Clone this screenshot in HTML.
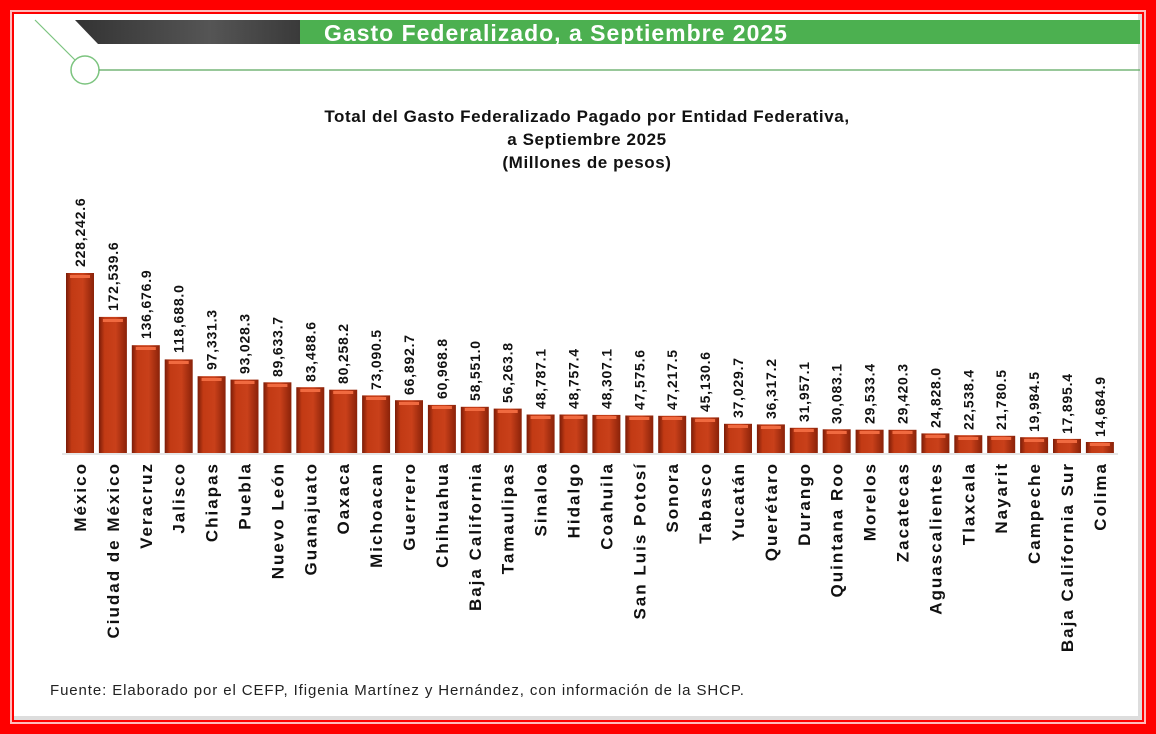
<!DOCTYPE html>
<html><head><meta charset="utf-8"><style>
body{margin:0;width:1156px;height:734px;overflow:hidden;background:#fff}
svg{display:block}
text{font-family:"Liberation Sans",sans-serif}
</style></head><body>
<svg width="1156" height="734" viewBox="0 0 1156 734">
<defs>
<linearGradient id="bg" x1="0" x2="1" y1="0" y2="0">
<stop offset="0" stop-color="#7a1c08"/><stop offset="0.2" stop-color="#c23a14"/><stop offset="0.6" stop-color="#c9401a"/><stop offset="1" stop-color="#8a2209"/>
</linearGradient>
<linearGradient id="hd" x1="0" x2="1">
<stop offset="0" stop-color="#333"/><stop offset="0.6" stop-color="#555"/><stop offset="1" stop-color="#3a3a3a"/>
</linearGradient>
</defs>
<rect x="0" y="0" width="1156" height="734" fill="#f00"/>
<rect x="10" y="10" width="1136" height="714" fill="#fbb"/>
<rect x="12" y="12" width="1132" height="710" fill="#f00"/>
<rect x="14" y="14" width="1128" height="706" fill="#fff"/>
<rect x="1138" y="14" width="4" height="706" fill="#ddd"/>
<rect x="14" y="716" width="1128" height="4" fill="#ddd"/>
<polygon points="75,20 300,20 300,44 98,44" fill="url(#hd)"/>
<rect x="300" y="20" width="840" height="24" fill="#4cb050"/>
<text x="556" y="41" font-size="23" letter-spacing="1" font-weight="bold" fill="#fff" text-anchor="middle">Gasto Federalizado, a Septiembre 2025</text>
<line x1="35" y1="20" x2="75" y2="60" stroke="#7cc47f" stroke-width="1.2"/>
<circle cx="85" cy="70" r="14" fill="#fff" stroke="#7cc47f" stroke-width="1.5"/>
<line x1="99" y1="70" x2="1140" y2="70" stroke="#5aa85e" stroke-width="1.2"/>
<g font-size="17" letter-spacing="0.6" font-weight="bold" fill="#111" text-anchor="middle">
<text x="587" y="122">Total del Gasto Federalizado Pagado por Entidad Federativa,</text>
<text x="587" y="145">a Septiembre 2025</text>
<text x="587" y="168">(Millones de pesos)</text>
</g>
<line x1="62" y1="454" x2="1118" y2="454" stroke="#ddd" stroke-width="1.5"/>
<g font-size="14" letter-spacing="0.8" font-weight="bold" fill="#111">
<g transform="translate(80,0)"><rect x="-14" y="273" width="28" height="180" fill="url(#bg)"/><rect x="-10" y="275" width="20" height="3" fill="#f06a40"/><text transform="translate(5,267) rotate(-90)">228,242.6</text><text font-size="17" letter-spacing="2" transform="translate(6,462) rotate(-90)" text-anchor="end">México</text></g>
<g transform="translate(112.9,0)"><rect x="-14" y="316.9" width="28" height="136.1" fill="url(#bg)"/><rect x="-10" y="319" width="20" height="3" fill="#f06a40"/><text transform="translate(5,311) rotate(-90)">172,539.6</text><text font-size="17" letter-spacing="2" transform="translate(6,462) rotate(-90)" text-anchor="end">Ciudad de México</text></g>
<g transform="translate(145.8,0)"><rect x="-14" y="345.2" width="28" height="107.8" fill="url(#bg)"/><rect x="-10" y="347" width="20" height="3" fill="#f06a40"/><text transform="translate(5,339) rotate(-90)">136,676.9</text><text font-size="17" letter-spacing="2" transform="translate(6,462) rotate(-90)" text-anchor="end">Veracruz</text></g>
<g transform="translate(178.7,0)"><rect x="-14" y="359.4" width="28" height="93.6" fill="url(#bg)"/><rect x="-10" y="361" width="20" height="3" fill="#f06a40"/><text transform="translate(5,353) rotate(-90)">118,688.0</text><text font-size="17" letter-spacing="2" transform="translate(6,462) rotate(-90)" text-anchor="end">Jalisco</text></g>
<g transform="translate(211.6,0)"><rect x="-14" y="376.2" width="28" height="76.8" fill="url(#bg)"/><rect x="-10" y="378" width="20" height="3" fill="#f06a40"/><text transform="translate(5,370) rotate(-90)">97,331.3</text><text font-size="17" letter-spacing="2" transform="translate(6,462) rotate(-90)" text-anchor="end">Chiapas</text></g>
<g transform="translate(244.5,0)"><rect x="-14" y="379.6" width="28" height="73.4" fill="url(#bg)"/><rect x="-10" y="381" width="20" height="3" fill="#f06a40"/><text transform="translate(5,374) rotate(-90)">93,028.3</text><text font-size="17" letter-spacing="2" transform="translate(6,462) rotate(-90)" text-anchor="end">Puebla</text></g>
<g transform="translate(277.4,0)"><rect x="-14" y="382.3" width="28" height="70.7" fill="url(#bg)"/><rect x="-10" y="384" width="20" height="3" fill="#f06a40"/><text transform="translate(5,377) rotate(-90)">89,633.7</text><text font-size="17" letter-spacing="2" transform="translate(6,462) rotate(-90)" text-anchor="end">Nuevo León</text></g>
<g transform="translate(310.3,0)"><rect x="-14" y="387.2" width="28" height="65.8" fill="url(#bg)"/><rect x="-10" y="389" width="20" height="3" fill="#f06a40"/><text transform="translate(5,382) rotate(-90)">83,488.6</text><text font-size="17" letter-spacing="2" transform="translate(6,462) rotate(-90)" text-anchor="end">Guanajuato</text></g>
<g transform="translate(343.2,0)"><rect x="-14" y="389.7" width="28" height="63.3" fill="url(#bg)"/><rect x="-10" y="391" width="20" height="3" fill="#f06a40"/><text transform="translate(5,384) rotate(-90)">80,258.2</text><text font-size="17" letter-spacing="2" transform="translate(6,462) rotate(-90)" text-anchor="end">Oaxaca</text></g>
<g transform="translate(376.1,0)"><rect x="-14" y="395.4" width="28" height="57.6" fill="url(#bg)"/><rect x="-10" y="397" width="20" height="3" fill="#f06a40"/><text transform="translate(5,390) rotate(-90)">73,090.5</text><text font-size="17" letter-spacing="2" transform="translate(6,462) rotate(-90)" text-anchor="end">Michoacan</text></g>
<g transform="translate(409,0)"><rect x="-14" y="400.2" width="28" height="52.8" fill="url(#bg)"/><rect x="-10" y="402" width="20" height="3" fill="#f06a40"/><text transform="translate(5,395) rotate(-90)">66,892.7</text><text font-size="17" letter-spacing="2" transform="translate(6,462) rotate(-90)" text-anchor="end">Guerrero</text></g>
<g transform="translate(441.9,0)"><rect x="-14" y="404.9" width="28" height="48.1" fill="url(#bg)"/><rect x="-10" y="406" width="20" height="3" fill="#f06a40"/><text transform="translate(5,399) rotate(-90)">60,968.8</text><text font-size="17" letter-spacing="2" transform="translate(6,462) rotate(-90)" text-anchor="end">Chihuahua</text></g>
<g transform="translate(474.8,0)"><rect x="-14" y="406.8" width="28" height="46.2" fill="url(#bg)"/><rect x="-10" y="408" width="20" height="3" fill="#f06a40"/><text transform="translate(5,401) rotate(-90)">58,551.0</text><text font-size="17" letter-spacing="2" transform="translate(6,462) rotate(-90)" text-anchor="end">Baja California</text></g>
<g transform="translate(507.7,0)"><rect x="-14" y="408.6" width="28" height="44.4" fill="url(#bg)"/><rect x="-10" y="410" width="20" height="3" fill="#f06a40"/><text transform="translate(5,403) rotate(-90)">56,263.8</text><text font-size="17" letter-spacing="2" transform="translate(6,462) rotate(-90)" text-anchor="end">Tamaulipas</text></g>
<g transform="translate(540.6,0)"><rect x="-14" y="414.5" width="28" height="38.5" fill="url(#bg)"/><rect x="-10" y="416" width="20" height="3" fill="#f06a40"/><text transform="translate(5,409) rotate(-90)">48,787.1</text><text font-size="17" letter-spacing="2" transform="translate(6,462) rotate(-90)" text-anchor="end">Sinaloa</text></g>
<g transform="translate(573.5,0)"><rect x="-14" y="414.5" width="28" height="38.5" fill="url(#bg)"/><rect x="-10" y="416" width="20" height="3" fill="#f06a40"/><text transform="translate(5,409) rotate(-90)">48,757.4</text><text font-size="17" letter-spacing="2" transform="translate(6,462) rotate(-90)" text-anchor="end">Hidalgo</text></g>
<g transform="translate(606.4,0)"><rect x="-14" y="414.9" width="28" height="38.1" fill="url(#bg)"/><rect x="-10" y="416" width="20" height="3" fill="#f06a40"/><text transform="translate(5,409) rotate(-90)">48,307.1</text><text font-size="17" letter-spacing="2" transform="translate(6,462) rotate(-90)" text-anchor="end">Coahuila</text></g>
<g transform="translate(639.3,0)"><rect x="-14" y="415.5" width="28" height="37.5" fill="url(#bg)"/><rect x="-10" y="417" width="20" height="3" fill="#f06a40"/><text transform="translate(5,410) rotate(-90)">47,575.6</text><text font-size="17" letter-spacing="2" transform="translate(6,462) rotate(-90)" text-anchor="end">San Luis Potosí</text></g>
<g transform="translate(672.2,0)"><rect x="-14" y="415.8" width="28" height="37.2" fill="url(#bg)"/><rect x="-10" y="417" width="20" height="3" fill="#f06a40"/><text transform="translate(5,410) rotate(-90)">47,217.5</text><text font-size="17" letter-spacing="2" transform="translate(6,462) rotate(-90)" text-anchor="end">Sonora</text></g>
<g transform="translate(705.1,0)"><rect x="-14" y="417.4" width="28" height="35.6" fill="url(#bg)"/><rect x="-10" y="419" width="20" height="3" fill="#f06a40"/><text transform="translate(5,412) rotate(-90)">45,130.6</text><text font-size="17" letter-spacing="2" transform="translate(6,462) rotate(-90)" text-anchor="end">Tabasco</text></g>
<g transform="translate(738,0)"><rect x="-14" y="423.8" width="28" height="29.2" fill="url(#bg)"/><rect x="-10" y="425" width="20" height="3" fill="#f06a40"/><text transform="translate(5,418) rotate(-90)">37,029.7</text><text font-size="17" letter-spacing="2" transform="translate(6,462) rotate(-90)" text-anchor="end">Yucatán</text></g>
<g transform="translate(770.9,0)"><rect x="-14" y="424.4" width="28" height="28.6" fill="url(#bg)"/><rect x="-10" y="426" width="20" height="3" fill="#f06a40"/><text transform="translate(5,419) rotate(-90)">36,317.2</text><text font-size="17" letter-spacing="2" transform="translate(6,462) rotate(-90)" text-anchor="end">Querétaro</text></g>
<g transform="translate(803.8,0)"><rect x="-14" y="427.8" width="28" height="25.2" fill="url(#bg)"/><rect x="-10" y="429" width="20" height="3" fill="#f06a40"/><text transform="translate(5,422) rotate(-90)">31,957.1</text><text font-size="17" letter-spacing="2" transform="translate(6,462) rotate(-90)" text-anchor="end">Durango</text></g>
<g transform="translate(836.7,0)"><rect x="-14" y="429.3" width="28" height="23.7" fill="url(#bg)"/><rect x="-10" y="431" width="20" height="3" fill="#f06a40"/><text transform="translate(5,424) rotate(-90)">30,083.1</text><text font-size="17" letter-spacing="2" transform="translate(6,462) rotate(-90)" text-anchor="end">Quintana Roo</text></g>
<g transform="translate(869.6,0)"><rect x="-14" y="429.7" width="28" height="23.3" fill="url(#bg)"/><rect x="-10" y="431" width="20" height="3" fill="#f06a40"/><text transform="translate(5,424) rotate(-90)">29,533.4</text><text font-size="17" letter-spacing="2" transform="translate(6,462) rotate(-90)" text-anchor="end">Morelos</text></g>
<g transform="translate(902.5,0)"><rect x="-14" y="429.8" width="28" height="23.2" fill="url(#bg)"/><rect x="-10" y="431" width="20" height="3" fill="#f06a40"/><text transform="translate(5,424) rotate(-90)">29,420.3</text><text font-size="17" letter-spacing="2" transform="translate(6,462) rotate(-90)" text-anchor="end">Zacatecas</text></g>
<g transform="translate(935.4,0)"><rect x="-14" y="433.4" width="28" height="19.6" fill="url(#bg)"/><rect x="-10" y="435" width="20" height="3" fill="#f06a40"/><text transform="translate(5,428) rotate(-90)">24,828.0</text><text font-size="17" letter-spacing="2" transform="translate(6,462) rotate(-90)" text-anchor="end">Aguascalientes</text></g>
<g transform="translate(968.3,0)"><rect x="-14" y="435.2" width="28" height="17.8" fill="url(#bg)"/><rect x="-10" y="437" width="20" height="3" fill="#f06a40"/><text transform="translate(5,430) rotate(-90)">22,538.4</text><text font-size="17" letter-spacing="2" transform="translate(6,462) rotate(-90)" text-anchor="end">Tlaxcala</text></g>
<g transform="translate(1001.2,0)"><rect x="-14" y="435.8" width="28" height="17.2" fill="url(#bg)"/><rect x="-10" y="437" width="20" height="3" fill="#f06a40"/><text transform="translate(5,430) rotate(-90)">21,780.5</text><text font-size="17" letter-spacing="2" transform="translate(6,462) rotate(-90)" text-anchor="end">Nayarit</text></g>
<g transform="translate(1034.1,0)"><rect x="-14" y="437.2" width="28" height="15.8" fill="url(#bg)"/><rect x="-10" y="439" width="20" height="3" fill="#f06a40"/><text transform="translate(5,432) rotate(-90)">19,984.5</text><text font-size="17" letter-spacing="2" transform="translate(6,462) rotate(-90)" text-anchor="end">Campeche</text></g>
<g transform="translate(1067,0)"><rect x="-14" y="438.9" width="28" height="14.1" fill="url(#bg)"/><rect x="-10" y="440" width="20" height="3" fill="#f06a40"/><text transform="translate(5,434) rotate(-90)">17,895.4</text><text font-size="17" letter-spacing="2" transform="translate(6,462) rotate(-90)" text-anchor="end">Baja California Sur</text></g>
<g transform="translate(1099.9,0)"><rect x="-14" y="442" width="28" height="11" fill="url(#bg)"/><rect x="-10" y="443" width="20" height="3" fill="#f06a40"/><text transform="translate(5,437) rotate(-90)">14,684.9</text><text font-size="17" letter-spacing="2" transform="translate(6,462) rotate(-90)" text-anchor="end">Colima</text></g>
</g>
<text x="50" y="695" font-size="15" letter-spacing="0.9" fill="#222">Fuente: Elaborado por el CEFP, Ifigenia Martínez y Hernández, con información de la SHCP.</text>
</svg>
</body></html>
